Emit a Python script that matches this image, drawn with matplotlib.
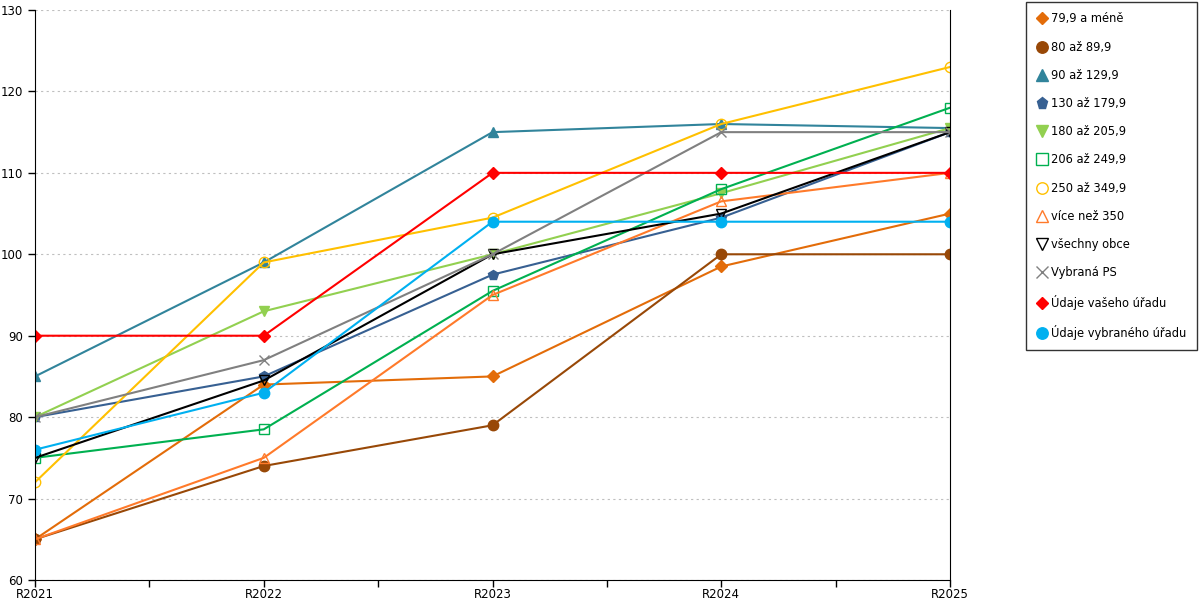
import matplotlib.pyplot as plt
from matplotlib.lines import Line2D
from matplotlib.ticker import MultipleLocator

years = ["R2021", "R2022", "R2023", "R2024", "R2025"]

# hodnoty jednotlivých řad
s_79 = [65, 84, 85, 98.5, 105]
s_80 = [65, 74, 79, 100, 100]
s_90 = [85, 99, 115, 116, 115.5]
s_130 = [80, 85, 97.5, 104.5, 115]
s_180 = [80, 93, 100, 107.5, 115.5]
s_206 = [75, 78.5, 95.5, 108, 118]
s_250 = [72, 99, 104.5, 116, 123]
s_350 = [65, 75, 95, 106.5, 110]
s_all = [75, 84.5, 100, 105, 115]
s_ps = [80, 87, 100, 115, 115]
s_vas = [90, 90, 110, 110, 110]
s_vyb = [76, 83, 104, 104, 104]

labels = ["79,9 a méně", "80 až 89,9", "90 až 129,9", "130 až 179,9", "180 až 205,9",
          "206 až 249,9", "250 až 349,9", "více než 350", "všechny obce", "Vybraná PS",
          "Údaje vašeho úřadu", "Údaje vybraného úřadu"]
series = [s_79, s_80, s_90, s_130, s_180, s_206, s_250, s_350, s_all, s_ps, s_vas, s_vyb]
colors = ["#E36C09", "#984807", "#31849B", "#376092", "#92D050", "#00B050",
          "#FFC000", "#FF7A2A", "#000000", "#808080", "#FF0000", "#00B0F0"]
markers = ["D", "o", "^", "p", "v", "s", "o", "^", "v", "x", "D", "o"]
filled = [True, True, True, True, True, False, False, False, False, True, True, True]
msizes = [6, 7.5, 7.5, 7.5, 7.5, 7.5, 7.5, 7.5, 7.5, 7.5, 6, 7.5]

fig = plt.figure(figsize=(12, 6), dpi=100)
ax = fig.add_axes([35 / 1200, 20 / 600, 915 / 1200, 570 / 600])

x = list(range(len(years)))
handles = []
for vals, lab, c, m, f, ms in zip(series, labels, colors, markers, filled, msizes):
    face = c if f else "none"
    ax.plot(x, vals, color=c, lw=1.5, marker=m, markersize=ms,
            markerfacecolor=face, markeredgecolor=c, markeredgewidth=1)
    handles.append(Line2D([], [], linestyle="none", marker=m, markersize=ms * 1.1,
                          markerfacecolor=face, markeredgecolor=c, label=lab))

ax.set_xlim(0, 4)
ax.set_ylim(60, 130)
ax.set_xticks(x)
ax.set_xticklabels(years)
ax.xaxis.set_minor_locator(MultipleLocator(0.5))
ax.yaxis.set_major_locator(MultipleLocator(10))
ax.tick_params(axis="both", labelsize=8.5, direction="out", length=5, width=1)
ax.tick_params(axis="x", pad=1)
ax.tick_params(axis="x", which="minor", length=5, width=1)
ax.grid(axis="y", color="#BFBFBF", linestyle=(0, (2, 3)), lw=0.8)
ax.spines["top"].set_visible(False)
for sp in ["left", "bottom", "right"]:
    ax.spines[sp].set_color("black")
ax.set_axisbelow(True)

leg = fig.legend(handles=handles, loc="upper right", bbox_to_anchor=(1197 / 1200, 1 - 2 / 600),
                 fontsize=8.3, frameon=True, fancybox=False, edgecolor="black",
                 labelspacing=1.32, handletextpad=0.3, handlelength=1.0, borderpad=0.9,
                 borderaxespad=0)
leg.get_frame().set_linewidth(1)

fig.savefig("out.png", dpi=100)
